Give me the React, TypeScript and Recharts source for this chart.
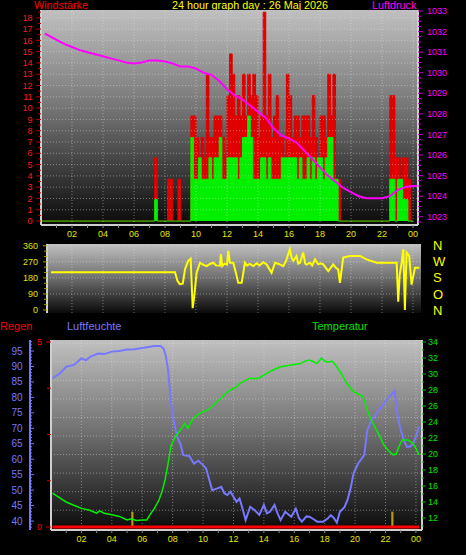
import React from "react";
import {
  ComposedChart,
  Area,
  Line,
  XAxis,
  YAxis,
  CartesianGrid,
  ReferenceLine,
} from "recharts";

const FONT = "'Liberation Sans', Arial, sans-serif";

// wind in 10 minute steps, 00:00 .. 24:00
const gust = [
  0, 0, 0, 0, 0, 0, 0, 0, 0, 0, 0, 0,
  0, 0, 0, 0, 0, 0, 0, 0, 0, 0, 0, 0,
  0, 0, 0, 0, 0, 0, 0, 0, 0, 0, 0, 0,
  0, 0, 0, 0, 0, 0, 0, 0, 5.6, 0, 0, 0,
  0, 3.7, 3.7, 0, 0, 3.7, 0, 0, 0, 0, 9.3, 9.3,
  7.4, 5.6, 7.4, 5.6, 13, 7.4, 7.4, 9.3, 9.3, 9.3, 7.4, 5.6,
  11.1, 14.8, 13, 9.3, 11.1, 9.3, 13, 9.3, 13, 11.1, 13, 11.1,
  7.4, 9.3, 18.5, 9.3, 13, 7.4, 9.3, 11.1, 7.4, 7.4, 5.6, 13,
  11.1, 7.4, 9.3, 9.3, 7.4, 9.3, 9.3, 9.3, 7.4, 11.1, 7.4, 5.6,
  9.3, 9.3, 7.4, 13, 9.3, 13, 3.7, 3.7, 0, 0, 0, 0,
  0, 0, 0, 0, 0, 0, 0, 0, 0, 0, 0, 0,
  0, 0, 0, 11.1, 11.1, 5.6, 5.6, 3.7, 5.6, 5.6, 3.7, 0,
  0,
];
const speed = [
  0, 0, 0, 0, 0, 0, 0, 0, 0, 0, 0, 0,
  0, 0, 0, 0, 0, 0, 0, 0, 0, 0, 0, 0,
  0, 0, 0, 0, 0, 0, 0, 0, 0, 0, 0, 0,
  0, 0, 0, 0, 0, 0, 0, 0, 1.9, 0, 0, 0,
  0, 0, 0, 0, 0, 0, 0, 0, 0, 0, 7.4, 3.7,
  3.7, 5.6, 3.7, 3.7, 3.7, 5.6, 3.7, 5.6, 5.6, 7.4, 3.7, 3.7,
  5.6, 5.6, 5.6, 5.6, 3.7, 5.6, 7.4, 7.4, 9.3, 7.4, 3.7, 3.7,
  3.7, 5.6, 5.6, 3.7, 5.6, 3.7, 3.7, 3.7, 3.7, 5.6, 5.6, 5.6,
  5.6, 5.6, 5.6, 3.7, 5.6, 3.7, 3.7, 5.6, 3.7, 5.6, 3.7, 5.6,
  5.6, 3.7, 5.6, 7.4, 7.4, 3.7, 3.7, 0, 0, 0, 0, 0,
  0, 0, 0, 0, 0, 0, 0, 0, 0, 0, 0, 0,
  0, 0, 0, 3.7, 3.7, 0, 3.7, 3.7, 1.9, 1.9, 0, 0,
  0,
];

const pressureHours = [
  0.25, 0.5, 1, 1.5, 2, 2.5, 3, 3.5, 4, 4.5, 5, 5.5, 6, 6.5, 7, 7.5, 8, 8.5,
  9, 9.5, 10, 10.5, 11, 11.5, 12, 12.5, 13, 13.5, 14, 14.5, 15, 15.5, 16,
  16.5, 17, 17.5, 18, 18.5, 19, 19.5, 20, 20.5, 21, 21.5, 22, 22.5, 23, 23.5,
  24, 24.3,
];
const pressure = [
  1031.9, 1031.8, 1031.6, 1031.4, 1031.25, 1031.1, 1031.0, 1030.9, 1030.8,
  1030.7, 1030.6, 1030.5, 1030.45, 1030.5, 1030.6, 1030.6, 1030.55, 1030.45,
  1030.3, 1030.3, 1030.2, 1030.0, 1029.9, 1029.6, 1029.2, 1028.9, 1028.7,
  1028.4, 1028.1, 1027.8, 1027.3, 1026.95, 1026.8, 1026.6, 1026.2, 1025.8,
  1025.4, 1025.0, 1024.7, 1024.4, 1024.2, 1024.0, 1023.9, 1023.9, 1023.9,
  1024.0, 1024.3, 1024.45, 1024.5, 1024.5,
];

const dirHours = [
  0.65, 8.65, 8.8, 8.95, 9.15, 9.3, 9.5, 9.66, 9.79, 9.89, 10.04, 10.26, 10.45,
  10.69, 10.9, 11.12, 11.3, 11.55, 11.61, 11.7, 11.85, 12.0, 12.09, 12.19,
  12.41, 12.58, 12.73, 12.95, 13.16, 13.3, 13.48, 13.7, 13.92, 14.1, 14.34,
  14.56, 14.88, 15.1, 15.35, 15.63, 15.81, 16.06, 16.18, 16.28, 16.49, 16.6,
  16.71, 16.92, 17.05, 17.14, 17.35, 17.5, 17.68, 17.89, 18.05, 18.21, 18.54,
  18.86, 19.05, 19.18, 19.29, 19.5, 19.94, 20.58, 21.01, 21.66, 22.95, 23.05,
  23.15, 23.27, 23.38, 23.48, 23.59, 23.76, 23.91, 24.13, 24.41,
];
const direction = [
  212, 212, 165, 145, 148, 230, 275, 288, 10, 76, 208, 265, 255, 246, 258,
  265, 250, 248, 313, 246, 260, 255, 332, 265, 265, 208, 152, 152, 265, 250,
  258, 246, 262, 250, 268, 255, 208, 265, 258, 246, 275, 341, 290, 275, 303,
  260, 265, 322, 260, 255, 265, 250, 284, 256, 262, 256, 218, 256, 235, 228,
  152, 294, 303, 303, 284, 265, 265, 47, 200, 265, 341, 0, 322, 303, 142,
  237, 237,
];

const humHours = [
  0.1, 0.6, 1.0, 1.5, 2.0, 2.3, 2.6, 3.1, 3.5, 4.0, 4.5, 5.0, 5.5, 6.0, 6.3,
  6.8, 7.2, 7.4, 7.55, 7.7, 7.9, 8.05, 8.2, 8.35, 8.5, 8.7, 9.1, 9.4, 9.7,
  10.0, 10.2, 10.4, 10.6, 10.9, 11.2, 11.4, 11.6, 11.8, 12.2, 12.4, 12.6,
  12.8, 13.1, 13.4, 13.7, 14.0, 14.2, 14.4, 14.7, 14.9, 15.1, 15.4, 15.8,
  16.1, 16.3, 16.5, 16.8, 17.0, 17.3, 17.5, 17.9, 18.2, 18.4, 18.6, 18.8,
  19.0, 19.3, 19.5, 19.7, 19.9, 20.2, 20.6, 20.8, 21.1, 21.5, 21.9, 22.2,
  22.5, 22.6, 22.8, 23.0, 23.2, 23.4, 23.6, 23.8, 24.0, 24.2,
];
const humidity = [
  86.2, 87.8, 89.9, 90.5, 92.6, 92.0, 93.2, 94.2, 94.0, 94.8, 95.0, 95.5,
  95.6, 96.0, 96.2, 96.6, 96.6, 95.8, 93.5, 88.8, 78.0, 73.0, 69.4, 66.5,
  65.1, 61.3, 61.0, 58.6, 59.5, 58.1, 57.0, 53.5, 50.0, 50.5, 51.1, 49.0,
  48.4, 49.5, 46.2, 47.3, 44.0, 40.3, 44.6, 43.5, 42.0, 45.2, 42.5, 43.0,
  45.2, 42.5, 40.3, 43.0, 41.4, 44.0, 41.0, 39.8, 41.5, 41.4, 40.5, 39.8,
  39.8, 40.8, 41.9, 41.0, 39.5, 43.0, 44.5, 46.8, 50.5, 55.4, 58.6, 61.3,
  69.4, 72.7, 75.5, 78.0, 80.0, 81.5, 82.1, 73.7, 69.5, 66.2, 64.0, 64.0,
  65.0, 67.3, 70.5,
];

const tempHours = [
  0.1, 0.5, 1.0, 1.5, 2.0, 2.5, 3.0, 3.2, 3.5, 4.0, 4.5, 5.0, 5.3, 5.6, 6.0,
  6.3, 6.5, 6.8, 7.1, 7.3, 7.5, 7.7, 7.9, 8.2, 8.5, 8.8, 9.0, 9.2, 9.4, 9.7,
  10.0, 10.3, 10.6, 10.9, 11.2, 11.5, 11.8, 12.2, 12.4, 12.8, 13.1, 13.4,
  13.7, 14.2, 14.6, 15.1, 15.4, 15.7, 16.0, 16.4, 16.7, 17.0, 17.3, 17.5,
  17.8, 18.0, 18.2, 18.5, 18.8, 19.1, 19.4, 19.7, 19.9, 20.2, 20.5, 20.8,
  21.0, 21.3, 21.6, 21.9, 22.2, 22.5, 22.7, 22.9, 23.1, 23.5, 23.8, 24.0,
  24.2,
];
const temperature = [
  15.1, 14.6, 14.0, 13.6, 13.2, 13.0, 12.6, 12.9, 12.6, 12.4, 12.2, 11.75,
  11.9, 11.7, 11.75, 11.75, 12.4, 13.2, 14.25, 15.3, 16.75, 18.8, 21.1, 22.2,
  23.0, 23.8, 23.2, 24.0, 24.5, 25.0, 25.3, 25.5, 25.9, 26.5, 27.0, 27.6,
  28.0, 28.4, 28.8, 29.2, 29.5, 29.4, 29.5, 30.1, 30.5, 30.9, 31.0, 31.1,
  31.2, 31.3, 31.6, 31.75, 31.5, 31.3, 32.0, 31.6, 31.5, 31.6, 30.9, 30.0,
  29.0, 28.2, 27.8, 27.5, 27.2, 25.5, 24.5, 23.4, 22.3, 21.1, 20.4, 19.9,
  20.0, 21.0, 21.75, 21.75, 21.3, 20.7, 19.9,
];

const rainHours = [0.1, 24.2];
const rain = [0, 0];
const rainRateHours = [5.28, 5.42, 5.43, 22.38, 22.52];
const rainRate = [0.4, 0.4, null, 0.4, 0.4];

const hourTicks = [1, 2, 3, 4, 5, 6, 7, 8, 9, 10, 11, 12, 13, 14, 15, 16, 17, 18, 19, 20, 21, 22, 23, 24];
const hourLabels = [2, 4, 6, 8, 10, 12, 14, 16, 18, 20, 22, 24];
const windLabels = [0, 1, 2, 3, 4, 5, 6, 7, 8, 9, 10, 11, 12, 13, 14, 15, 16, 17, 18];
const pressureLabels = [1023, 1024, 1025, 1026, 1027, 1028, 1029, 1030, 1031, 1032, 1033];
const dirLabels = [0, 90, 180, 270, 360];
const compass = ["N", "O", "S", "W", "N"];
const humLabels = [40, 45, 50, 55, 60, 65, 70, 75, 80, 85, 90, 95];
const humGrid = [43.5, 49.5, 55.5, 61.5, 67.5, 73.5, 79.5, 85.5, 91.5, 97.5];
const rainTicks = [0, 1.25, 2.5, 3.75, 5];
const rainLabels = [0, 5];
const tempLabels = [12, 14, 16, 18, 20, 22, 24, 26, 28, 30, 32, 34];

const range = (a: number, b: number, s: number) => {
  const out: number[] = [];
  for (let v = a; v <= b + 1e-9; v += s) out.push(Math.round(v * 1000) / 1000);
  return out;
};

const windData = gust.map((g, i) => ({ h: i / 6, gust: g, speed: speed[i] }));
const pressureData = pressureHours.map((h, i) => ({ h, p: pressure[i] }));
const dirData = dirHours.map((h, i) => ({ h, d: direction[i] }));
const humData = humHours.map((h, i) => ({ h, v: humidity[i] }));
const tempData = tempHours.map((h, i) => ({ h, v: temperature[i] }));
const rainData = rainHours.map((h, i) => ({ h, r: rain[i] }));
const rainRateData = rainRateHours.map((h, i) => ({ h, r: rainRate[i] }));

const hh = (h: number) => String(h % 24).padStart(2, "0");

type TickCfg = {
  side: "left" | "right" | "bottom";
  gap: number;
  labels: number[];
  fmt?: (v: number) => string;
  color: string;
  mark: string;
  minor: number;
  major: number;
  flip?: boolean;
  size?: number;
};

const makeTick = (c: TickCfg) => (p: any) => {
  const v = Number(p.payload.value);
  const isMajor = c.labels.some((l) => Math.abs(l - v) < 1e-6);
  const len = isMajor ? c.major : c.minor;
  const label = isMajor ? (c.fmt ? c.fmt(v) : String(v)) : "";
  const fs = c.size ?? 9;
  if (c.side === "bottom") {
    const ay = p.y - c.gap;
    return (
      <g>
        <line x1={p.x} x2={p.x} y1={ay} y2={ay + len} stroke={c.mark} />
        {label && (
          <text x={p.x} y={p.y} dy="0.71em" textAnchor="middle" fill={c.color} fontSize={fs} fontFamily={FONT}>
            {label}
          </text>
        )}
      </g>
    );
  }
  const out = c.side === "left" ? -1 : 1;
  const ax = p.x - out * c.gap;
  const d = c.flip ? -out : out;
  return (
    <g>
      <line x1={ax} x2={ax + d * len} y1={p.y} y2={p.y} stroke={c.mark} />
      {label && (
        <text
          x={p.x}
          y={p.y}
          dy="0.35em"
          textAnchor={c.side === "left" ? "end" : "start"}
          fill={c.color}
          fontSize={fs}
          fontFamily={FONT}
        >
          {label}
        </text>
      )}
    </g>
  );
};

const gridStroke = { stroke: "#e4e4e4", strokeOpacity: 0.45, strokeDasharray: "1 2" };
const frame = { stroke: "#cfcfcf", strokeWidth: 2 };

const xTick = makeTick({ side: "bottom", gap: 6, labels: hourLabels, fmt: hh, color: "#e6e600", mark: "#8a8a8a", minor: 3, major: 3 });

const WindChart = () => (
  <ComposedChart width={466} height={245} margin={{ top: 10, right: 0, bottom: 0, left: 0 }}>
    <CartesianGrid yAxisId="wind" horizontal={false} vertical={false} fill="url(#plotBg)" fillOpacity={1} />
    <XAxis
      type="number"
      dataKey="h"
      domain={[0, 24.32]}
      allowDataOverflow
      ticks={hourTicks}
      interval={0}
      height={20}
      tickSize={0}
      tickMargin={6}
      tickLine={false}
      axisLine={frame}
      tick={xTick}
    />
    <YAxis
      yAxisId="wind"
      width={41}
      type="number"
      domain={[-0.35, 18.69]}
      allowDataOverflow
      ticks={range(0, 18.5, 0.5)}
      interval={0}
      tickSize={0}
      tickMargin={8.5}
      tickLine={false}
      axisLine={frame}
      tick={makeTick({ side: "left", gap: 8.5, labels: windLabels, color: "#ff1a1a", mark: "#b00000", minor: 3, major: 5 })}
    />
    <YAxis
      yAxisId="p"
      orientation="right"
      width={48}
      type="number"
      domain={[1022.6, 1033.05]}
      allowDataOverflow
      ticks={range(1022.75, 1033, 0.25)}
      interval={0}
      tickSize={0}
      tickMargin={9}
      tickLine={false}
      axisLine={frame}
      tick={makeTick({ side: "right", gap: 9, labels: pressureLabels, color: "#ff00ff", mark: "#c000c0", minor: 3, major: 5 })}
    />
    {hourLabels.map((h) => (
      <ReferenceLine key={"x" + h} x={h} yAxisId="wind" {...gridStroke} />
    ))}
    {windLabels.slice(1).map((v) => (
      <ReferenceLine key={"y" + v} y={v} yAxisId="wind" {...gridStroke} />
    ))}
    <Area
      yAxisId="wind"
      data={windData}
      dataKey="gust"
      type="stepAfter"
      stroke="#e00000"
      fill="#e00000"
      fillOpacity={1}
      strokeWidth={1}
      baseValue={0}
      isAnimationActive={false}
    />
    <Area
      yAxisId="wind"
      data={windData}
      dataKey="speed"
      type="stepAfter"
      stroke="#00f000"
      fill="#00f000"
      fillOpacity={1}
      strokeWidth={1}
      baseValue={0}
      isAnimationActive={false}
    />
    <Line
      yAxisId="p"
      data={pressureData}
      dataKey="p"
      type="linear"
      stroke="#ff00ff"
      strokeWidth={2}
      dot={false}
      isAnimationActive={false}
    />
  </ComposedChart>
);

const DirectionChart = () => (
  <ComposedChart width={466} height={90} margin={{ top: 12, right: 0, bottom: 9, left: 0 }}>
    <CartesianGrid yAxisId="dir" horizontal={false} vertical={false} fill="url(#plotBg)" fillOpacity={1} />
    <XAxis
      type="number"
      dataKey="h"
      domain={[0.39, 24.52]}
      allowDataOverflow
      height={0}
      tick={false}
      tickLine={false}
      axisLine={frame}
    />
    <YAxis
      yAxisId="dir"
      width={47}
      type="number"
      domain={[-17, 370]}
      allowDataOverflow
      ticks={range(0, 360, 30)}
      interval={0}
      tickSize={0}
      tickMargin={9}
      tickLine={false}
      axisLine={frame}
      tick={makeTick({ side: "left", gap: 9, labels: dirLabels, color: "#e0e000", mark: "#a0a000", minor: 3, major: 4 })}
    />
    <YAxis
      yAxisId="nwso"
      orientation="right"
      width={45}
      type="number"
      domain={[-17, 370]}
      allowDataOverflow
      ticks={dirLabels}
      interval={0}
      tickSize={0}
      tickMargin={12}
      tickLine={false}
      axisLine={false}
      tickFormatter={(v: number) => compass[dirLabels.indexOf(v)]}
      tick={{ fill: "#ffff00", fontSize: 13, fontFamily: FONT }}
    />
    {hourLabels.map((h) => (
      <ReferenceLine key={"x" + h} x={h} yAxisId="dir" {...gridStroke} />
    ))}
    {dirLabels.slice(1).map((v) => (
      <ReferenceLine key={"y" + v} y={v} yAxisId="dir" {...gridStroke} />
    ))}
    <Line
      yAxisId="dir"
      data={dirData}
      dataKey="d"
      type="linear"
      stroke="#ffff00"
      strokeWidth={2}
      dot={false}
      isAnimationActive={false}
    />
  </ComposedChart>
);

// left axes are stacked by id: "aRain" sits next to the plot, "bHum" outside it
const ClimateChart = () => (
  <ComposedChart width={466} height={220} margin={{ top: 5, right: 0, bottom: 5, left: 0 }}>
    <CartesianGrid yAxisId="aRain" horizontal={false} vertical={false} fill="url(#plotBg)" fillOpacity={1} />
    <XAxis
      type="number"
      dataKey="h"
      domain={[0, 24.4]}
      allowDataOverflow
      ticks={hourTicks}
      interval={0}
      height={20}
      tickSize={0}
      tickMargin={6}
      tickLine={false}
      axisLine={frame}
      tick={xTick}
    />
    <YAxis
      yAxisId="aRain"
      width={21}
      type="number"
      domain={[-0.081, 5.054]}
      allowDataOverflow
      ticks={rainTicks}
      interval={0}
      tickSize={0}
      tickMargin={9}
      tickLine={false}
      axisLine={frame}
      tick={makeTick({ side: "left", gap: 9, labels: rainLabels, color: "#ff0000", mark: "#d00000", minor: 4, major: 5 })}
    />
    <YAxis
      yAxisId="bHum"
      width={30}
      type="number"
      domain={[37.1, 98.56]}
      allowDataOverflow
      ticks={range(38, 98, 1)}
      interval={0}
      tickSize={0}
      tickMargin={7.5}
      tickLine={false}
      axisLine={{ stroke: "#7878ff", strokeWidth: 2 }}
      tick={makeTick({ side: "left", gap: 7.5, labels: humLabels, color: "#7878ff", mark: "#7878ff", minor: 2, major: 4, flip: true, size: 10 })}
    />
    <YAxis
      yAxisId="temp"
      orientation="right"
      width={44}
      type="number"
      domain={[10.5, 34.25]}
      allowDataOverflow
      ticks={range(11, 34, 1)}
      interval={0}
      tickSize={0}
      tickMargin={6}
      tickLine={false}
      axisLine={frame}
      tick={makeTick({ side: "right", gap: 6, labels: tempLabels, color: "#00e000", mark: "#00b000", minor: 2, major: 4 })}
    />
    {hourLabels.map((h) => (
      <ReferenceLine key={"x" + h} x={h} yAxisId="bHum" {...gridStroke} />
    ))}
    {humGrid.map((v) => (
      <ReferenceLine key={"y" + v} y={v} yAxisId="bHum" {...gridStroke} />
    ))}
    <Line
      yAxisId="aRain"
      data={rainData}
      dataKey="r"
      type="linear"
      stroke="#ff0000"
      strokeWidth={3}
      dot={false}
      isAnimationActive={false}
    />
    <Area
      yAxisId="aRain"
      data={rainRateData}
      dataKey="r"
      type="linear"
      stroke="#b8a000"
      fill="#b8a000"
      fillOpacity={1}
      baseValue={0}
      isAnimationActive={false}
    />
    <Line
      yAxisId="bHum"
      data={humData}
      dataKey="v"
      type="linear"
      stroke="#7878ff"
      strokeWidth={2}
      dot={false}
      isAnimationActive={false}
    />
    <Line
      yAxisId="temp"
      data={tempData}
      dataKey="v"
      type="linear"
      stroke="#00f000"
      strokeWidth={1.5}
      dot={false}
      isAnimationActive={false}
    />
  </ComposedChart>
);

const label = (text: string, left: number, top: number, color: string, size = 10.8) => (
  <div
    style={{
      position: "absolute",
      left,
      top,
      color,
      fontFamily: FONT,
      fontSize: size,
      lineHeight: 1,
      whiteSpace: "nowrap",
    }}
  >
    {text}
  </div>
);

export default function App() {
  return (
    <div
      style={{
        position: "absolute",
        left: 0,
        top: 0,
        width: 466,
        height: 555,
        background: "#000",
        overflow: "hidden",
      }}
    >
      <svg width={0} height={0} style={{ position: "absolute" }}>
        <defs>
          <linearGradient id="plotBg" x1="0" y1="0" x2="0" y2="1">
            <stop offset="0%" stopColor="#c0c0c0" />
            <stop offset="45%" stopColor="#767676" />
            <stop offset="100%" stopColor="#0a0a0a" />
          </linearGradient>
        </defs>
      </svg>
      {label("Windstärke", 34, 0, "#ff0000")}
      {label("24 hour graph day : 26 Maj 2026", 172, 0, "#ffff00")}
      {label("Luftdruck", 372, 0, "#ff00ff")}
      <div style={{ position: "absolute", left: 0, top: 0 }}>
        <WindChart />
      </div>
      {label("Regen", 0, 321, "#ff0000", 11)}
      {label("Luftfeuchte", 67, 321, "#7878ff", 11)}
      {label("Temperatur", 312, 321, "#00e000", 11)}
      <div style={{ position: "absolute", left: 0, top: 232 }}>
        <DirectionChart />
      </div>
      <div style={{ position: "absolute", left: 0, top: 335 }}>
        <ClimateChart />
      </div>
    </div>
  );
}
